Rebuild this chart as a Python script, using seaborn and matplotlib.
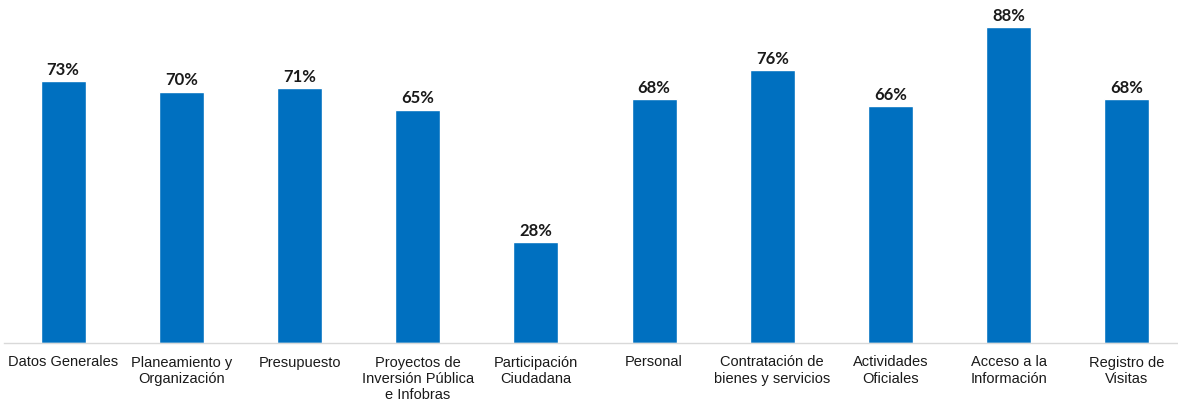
import pandas as pd
import numpy as np
import matplotlib.pyplot as plt
import seaborn as sns

# data
categories = ["Datos Generales", "Planeamiento y\nOrganización", "Presupuesto",
              "Proyectos de\nInversión Pública\ne Infobras", "Participación\nCiudadana",
              "Personal", "Contratación de\nbienes y servicios", "Actividades\nOficiales",
              "Acceso a la\nInformación", "Registro de\nVisitas"]
values = [73, 70, 71, 65, 28, 68, 76, 66, 88, 68]

df = pd.DataFrame({"cat": categories, "val": values})

sns.set_style("white")
plt.rcParams['font.family'] = ['Liberation Sans', 'DejaVu Sans']

fig = plt.figure(figsize=(11.78, 4.01), dpi=100)
ax = fig.add_axes([4 / 1178, 58 / 401, 1182 / 1178, 343 / 401])

sns.barplot(data=df, x="cat", y="val", color="#0070C0", saturation=1, width=0.38, ax=ax)

for i, v in enumerate(values):
    ax.text(i, v + 0.9, str(v) + "%", ha="center", va="bottom",
            fontsize=12, fontweight="bold", family="Lato", color="#1a1a1a")

ax.set_ylim(0, 95.5)
ax.set_xlim(-0.5, 9.5)
ax.set_xlabel("")
ax.set_ylabel("")
ax.set_yticks([])
ax.tick_params(axis="x", length=0, pad=9, labelsize=10.5, labelcolor="#1a1a1a")
for s in ["top", "right", "left"]:
    ax.spines[s].set_visible(False)
ax.spines["bottom"].set_color("#d9d9d9")
ax.spines["bottom"].set_linewidth(1)

fig.savefig("out.png", dpi=100)
